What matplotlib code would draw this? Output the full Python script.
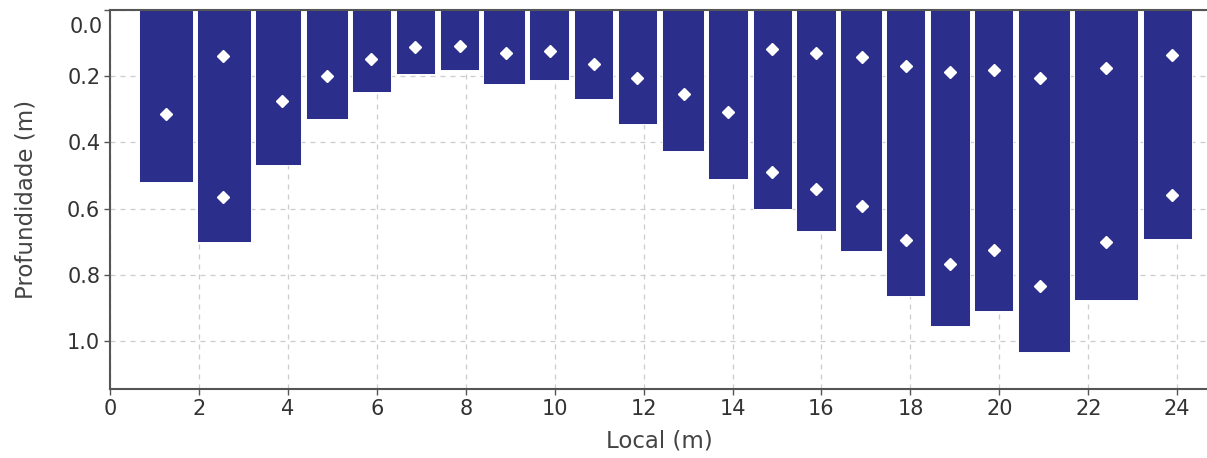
import matplotlib.pyplot as plt
import numpy as np

# limites de cada faixa (m) e profundidade medida
x_ini = [0.65, 1.96, 3.26, 4.41, 5.45, 6.43, 7.42, 8.39, 9.43, 10.44, 11.43,
         12.42, 13.45, 14.46, 15.43, 16.42, 17.45, 18.44, 19.43, 20.42, 21.68, 23.23]
x_fim = [1.87, 3.17, 4.30, 5.35, 6.32, 7.31, 8.30, 9.33, 10.32, 11.32, 12.31,
         13.36, 14.35, 15.34, 16.33, 17.36, 18.33, 19.34, 20.31, 21.59, 23.12, 24.34]
prof = [0.52, 0.70, 0.467, 0.330, 0.249, 0.192, 0.181, 0.223, 0.210, 0.270, 0.344,
        0.425, 0.510, 0.602, 0.669, 0.728, 0.865, 0.956, 0.909, 1.033, 0.877, 0.693]

# pontos de medição
px = [1.26, 2.55, 2.55, 3.86, 4.89, 5.88, 6.86, 7.86, 8.90, 9.89, 10.88, 11.85,
      12.91, 13.90, 14.89, 14.89, 15.88, 15.88, 16.91, 16.91, 17.90, 17.90,
      18.89, 18.89, 19.88, 19.88, 20.92, 20.92, 22.40, 22.40, 23.89, 23.89]
py = [0.315, 0.138, 0.566, 0.276, 0.200, 0.149, 0.113, 0.108, 0.131, 0.123, 0.162,
      0.206, 0.254, 0.309, 0.119, 0.490, 0.131, 0.541, 0.143, 0.591, 0.169, 0.695,
      0.187, 0.768, 0.180, 0.724, 0.206, 0.834, 0.175, 0.700, 0.137, 0.559]

fig = plt.figure(figsize=(12.07, 4.58), dpi=100)
ax = fig.add_axes([110/1207, 69/458, 1 - 110/1207, 379/458])

larg = np.array(x_fim) - np.array(x_ini)
ax.bar(x_ini, prof, width=larg, align='edge', color='#2b2f8b',
       edgecolor='white', linewidth=0.7, zorder=2)
ax.plot(px, py, linestyle='none', marker='D', markersize=6.5,
        color='white', zorder=3)

ax.set_xlim(0, 24.67)
ax.set_ylim(1.145, 0)
ax.set_xticks(np.arange(0, 25, 2))
ax.set_yticks([0.0, 0.2, 0.4, 0.6, 0.8, 1.0])
ax.set_yticklabels(['', '0.2', '0.4', '0.6', '0.8', '1.0'])
# rótulo do zero deslocado para baixo, dentro da figura
ax.annotate('0.0', xy=(0, 0), xycoords='data', xytext=(-7, -17),
            textcoords='offset pixels', ha='right', va='center',
            fontsize=15, color='#333333', annotation_clip=False)

ax.grid(True, linestyle=(0, (4, 4)), color='#cccccc', linewidth=0.9)
ax.set_axisbelow(True)

for s in ['left', 'bottom', 'top']:
    ax.spines[s].set_color('#555555')
    ax.spines[s].set_linewidth(1.5)
ax.spines['right'].set_visible(False)
ax.tick_params(colors='#555555', length=4, width=1, labelsize=15,
               labelcolor='#333333', pad=3)

ax.set_xlabel('Local (m)', fontsize=16.5, color='#444444')
ax.set_ylabel('Profundidade (m)', fontsize=16.5, color='#444444')
ax.xaxis.set_label_coords(0.501, -0.106)
ax.yaxis.set_label_coords(-0.066, 0.5)

fig.savefig('out.png', dpi=100)
